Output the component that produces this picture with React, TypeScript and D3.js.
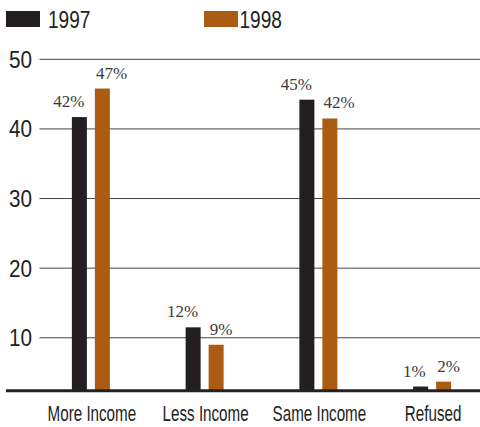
import React from "react";
import * as d3 from "d3";

const categories = ["More Income", "Less Income", "Same Income", "Refused"];
const series = ["1997", "1998"];
const values1997 = [41.7, 11.5, 44.2, 3.0];
const values1998 = [45.8, 9.0, 41.5, 3.7];
const labels1997 = ["42%", "12%", "45%", "1%"];
const labels1998 = ["47%", "9%", "42%", "2%"];
const yTicks = [10, 20, 30, 40, 50];

const W = 480;
const H = 427;
const colors = ["#231f20", "#ac5c12"];
const sans = "'Liberation Sans', Arial, sans-serif";
const serif = "'Liberation Serif', 'Times New Roman', serif";

export default function App() {
  const y = d3.scaleLinear().domain([2.4, 50]).range([390.7, 59.3]);
  const x = d3.scaleBand<string>().domain(categories).range([34, 489]).paddingInner(0);
  const xs = d3.scaleBand<string>().domain(series).range([-19, 19]).paddingInner(8 / 23).paddingOuter(0);
  const valuesBySeries = [values1997, values1998];
  const labelsBySeries = [labels1997, labels1998];
  const baseY = y(2.4);

  return (
    <svg width={W} height={H} style={{ position: "absolute", left: 0, top: 0, background: "#fff" }}>
      {/* legend */}
      <rect x={6} y={11} width={34} height={16} fill={colors[0]} />
      <text transform="translate(48,27.5) scale(0.83,1)" fontFamily={sans} fontSize={23} fill="#222">
        {series[0]}
      </text>
      <rect x={204} y={11} width={34} height={16} fill={colors[1]} />
      <text transform="translate(239.5,27.5) scale(0.83,1)" fontFamily={sans} fontSize={23} fill="#222">
        {series[1]}
      </text>

      {/* gridlines and ticks */}
      {yTicks.map((t) => (
        <g key={t}>
          <line x1={39.5} x2={W} y1={y(t)} y2={y(t)} stroke="#444" strokeWidth={1} />
          <text
            transform={`translate(32,${y(t) + 8.5}) scale(0.9,1)`}
            textAnchor="end"
            fontFamily={sans}
            fontSize={23}
            fill="#222"
          >
            {t}
          </text>
        </g>
      ))}

      {/* bars */}
      {categories.map((c, i) => {
        const cx = (x(c) as number) + x.bandwidth() / 2;
        return (
          <g key={c}>
            {series.map((s, j) => {
              const v = valuesBySeries[j][i];
              const bx = cx + (xs(s) as number);
              const top = y(v);
              return (
                <g key={s}>
                  <rect x={bx} y={top} width={xs.bandwidth()} height={baseY - top} fill={colors[j]} />
                  <text
                    x={j === 0 ? bx + xs.bandwidth() - 2.5 : bx + 1}
                    y={top - 10}
                    textAnchor={j === 0 ? "end" : "start"}
                    fontFamily={serif}
                    fontSize={17}
                    fill="#3a3a3a"
                  >
                    {labelsBySeries[j][i]}
                  </text>
                </g>
              );
            })}
            <text
              transform={`translate(${cx + 1},421) scale(0.69,1)`}
              textAnchor="middle"
              fontFamily={sans}
              fontSize={22}
              fill="#222"
            >
              {c}
            </text>
          </g>
        );
      })}

      {/* baseline */}
      <line x1={6} x2={W} y1={baseY} y2={baseY} stroke="#222" strokeWidth={3} />
    </svg>
  );
}
